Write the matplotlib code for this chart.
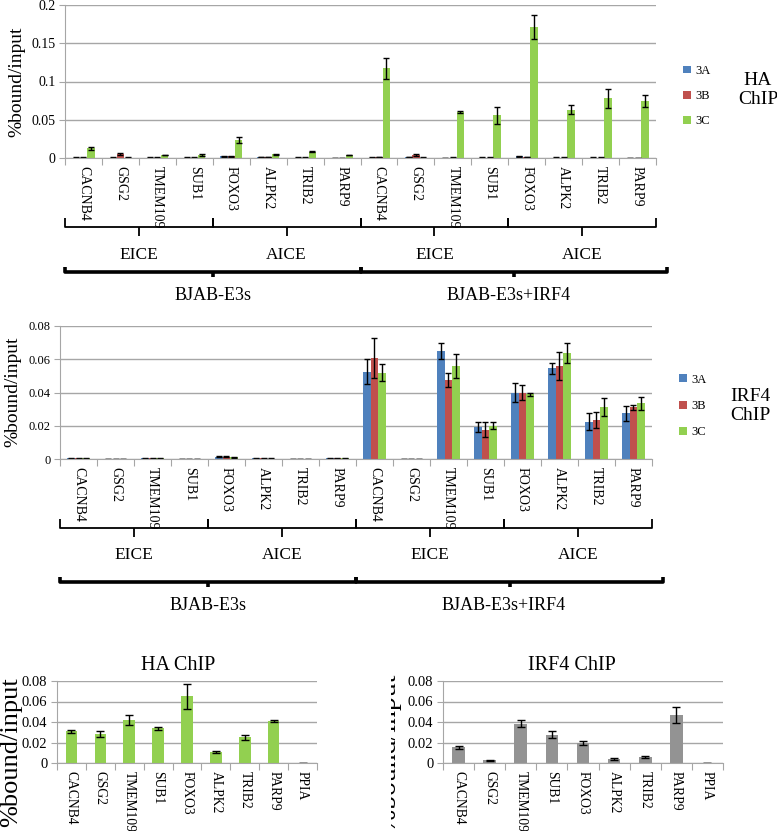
import matplotlib
matplotlib.use('Agg')
import matplotlib.pyplot as plt
from matplotlib.transforms import blended_transform_factory, Bbox, TransformedBbox
from matplotlib.ticker import FormatStrFormatter, FixedLocator
import numpy as np

plt.rcParams['font.family'] = ['Liberation Serif', 'DejaVu Serif']

genes = ['CACNB4', 'GSG2', 'TMEM109', 'SUB1', 'FOXO3', 'ALPK2', 'TRIB2', 'PARP9']
categories = genes + genes
groups = ['EICE', 'AICE', 'EICE', 'AICE']
cells = ['BJAB-E3s', 'BJAB-E3s+IRF4']
series = ['3A', '3B', '3C']

# HA ChIP (top)
ha_3a = [0.0005, 0.0005, 0.0005, 0.0005, 0.002, 0.001, 0.0005, 0.0,
         0.0005, 0.001, 0.0003, 0.0005, 0.002, 0.0005, 0.0005, 0.0]
ha_3a_err = [0.0002, 0.0002, 0.0002, 0.0002, 0.0004, 0.0002, 0.0002, 0.0,
             0.0002, 0.0003, 0.0001, 0.0002, 0.0004, 0.0002, 0.0002, 0.0]
ha_3b = [0.0005, 0.005, 0.0005, 0.0005, 0.002, 0.001, 0.0005, 0.0,
         0.001, 0.004, 0.0005, 0.0005, 0.001, 0.0005, 0.0005, 0.0]
ha_3b_err = [0.0002, 0.0015, 0.0002, 0.0002, 0.0004, 0.0002, 0.0002, 0.0,
             0.0003, 0.0008, 0.0002, 0.0002, 0.0003, 0.0002, 0.0002, 0.0]
ha_3c = [0.013, 0.0005, 0.004, 0.004, 0.024, 0.005, 0.008, 0.004,
         0.117, 0.0005, 0.060, 0.056, 0.171, 0.063, 0.078, 0.075]
ha_3c_err = [0.002, 0.0002, 0.0005, 0.0015, 0.004, 0.0005, 0.0005, 0.0005,
             0.014, 0.0002, 0.001, 0.011, 0.016, 0.006, 0.012, 0.008]

# IRF4 ChIP (middle)
irf_3a = [0.0004, 0.0002, 0.0005, 0.0, 0.0015, 0.0004, 0.0, 0.0004,
          0.0524, 0.0002, 0.065, 0.019, 0.040, 0.0545, 0.0225, 0.0275]
irf_3a_err = [0.0002, 0.0, 0.0002, 0.0, 0.0005, 0.0001, 0.0, 0.0001,
              0.0075, 0.0, 0.0048, 0.003, 0.0056, 0.0035, 0.005, 0.0045]
irf_3b = [0.0004, 0.0002, 0.0005, 0.0, 0.0015, 0.0004, 0.0, 0.0004,
          0.0605, 0.0002, 0.0475, 0.0175, 0.040, 0.056, 0.0235, 0.031]
irf_3b_err = [0.0002, 0.0, 0.0002, 0.0, 0.0005, 0.0001, 0.0, 0.0001,
              0.012, 0.0, 0.004, 0.0045, 0.0045, 0.0085, 0.005, 0.0015]
irf_3c = [0.0004, 0.0002, 0.0005, 0.0, 0.001, 0.0003, 0.0, 0.0004,
          0.052, 0.0002, 0.056, 0.020, 0.039, 0.0635, 0.0315, 0.0335]
irf_3c_err = [0.0002, 0.0, 0.0002, 0.0, 0.0004, 0.0001, 0.0, 0.0001,
              0.005, 0.0, 0.007, 0.002, 0.001, 0.006, 0.0054, 0.004]

# controls (bottom)
genes9 = genes + ['PPIA']
ha_ctrl = [0.031, 0.028, 0.042, 0.034, 0.065, 0.0105, 0.025, 0.041, 0.0]
ha_ctrl_err = [0.0015, 0.003, 0.0045, 0.0015, 0.012, 0.001, 0.0025, 0.001, 0.0]
irf_ctrl = [0.0155, 0.0025, 0.0385, 0.0275, 0.0195, 0.004, 0.006, 0.047, 0.0]
irf_ctrl_err = [0.0015, 0.0003, 0.003, 0.0035, 0.0015, 0.0008, 0.001, 0.0075, 0.0]

colors = ['#4F81BD', '#C0504D', '#92D050']
gray = '#A6A6A6'
W, H = 777, 831

fig = plt.figure(figsize=(W / 100, H / 100), dpi=100)


def px_axes(x0, y0, x1, y1):
    return fig.add_axes([x0 / W, 1 - y1 / H, (x1 - x0) / W, (y1 - y0) / H])


def style(ax, labels, ymax, ystep, ytick_size, xtick_size, pad):
    n = len(labels)
    ax.set_xlim(-0.5, n - 0.5)
    ax.set_ylim(0, ymax)
    ax.set_yticks(np.arange(0, ymax + ystep / 2, ystep))
    ax.yaxis.set_major_formatter(FormatStrFormatter('%g'))
    ax.grid(axis='y', color=gray, lw=1)
    ax.set_axisbelow(True)
    for s in ['top', 'right']:
        ax.spines[s].set_visible(False)
    for s in ['left', 'bottom']:
        ax.spines[s].set_color(gray)
    ax.xaxis.set_major_locator(FixedLocator(np.arange(-0.5, n, 1.0)))
    ax.xaxis.set_minor_locator(FixedLocator(np.arange(n)))
    ax.set_xticklabels([], minor=False)
    ax.set_xticklabels(labels, minor=True, rotation=-90, fontsize=xtick_size,
                       va='top', ha='center')
    ax.tick_params(axis='x', which='major', length=5, color=gray)
    ax.tick_params(axis='x', which='minor', length=0, pad=pad)
    ax.tick_params(axis='y', length=4, color=gray, labelsize=ytick_size, pad=3)


def grouped(ax, vals, errs, width):
    x = np.arange(len(vals[0]))
    handles = []
    for i, (v, e) in enumerate(zip(vals, errs)):
        b = ax.bar(x + (i - 1) * width, v, width, color=colors[i], yerr=e,
                   error_kw=dict(ecolor='black', elinewidth=1, capsize=2.5, capthick=1))
        handles.append(b)
    return handles


over = fig.add_axes([0, 0, 1, 1])
over.set_xlim(0, W)
over.set_ylim(H, 0)
over.axis('off')


def brace(ax, x0, x1, y, h, lw):
    tr = blended_transform_factory(ax.transData, over.transData)
    xm = (x0 + x1) / 2
    over.plot([x0, x0, x1, x1], [y - h, y, y, y - h], color='black', lw=lw,
              transform=tr, clip_on=False, solid_capstyle='butt')
    over.plot([xm, xm], [y, y + h], color='black', lw=lw, transform=tr,
              clip_on=False, solid_capstyle='butt')


def brackets(ax, y_small, y_text, y_big, y_cell, right_ext):
    tr = blended_transform_factory(ax.transData, over.transData)
    for k, g in enumerate(groups):
        x0, x1 = k * 4 - 0.5, k * 4 + 3.5
        brace(ax, x0, x1, y_small, 9, 1.3)
        over.text((x0 + x1) / 2, y_text, g, transform=tr, ha='center',
                  va='center', fontsize=12.5)
    for k, c in enumerate(cells):
        x0, x1 = k * 8 - 0.5, k * 8 + 7.5 + (right_ext if k == 1 else 0)
        brace(ax, x0, x1, y_big, 5, 2.6)
        over.text(k * 8 + 3.5, y_cell, c, transform=tr,
                  ha='center', va='center', fontsize=13)


# top: HA ChIP
ax1 = px_axes(65, 5, 656, 158)
h1 = grouped(ax1, [ha_3a, ha_3b, ha_3c], [ha_3a_err, ha_3b_err, ha_3c_err], 0.2)
style(ax1, categories, 0.2, 0.05, 10, 10, 6)
fig.text(17 / W, 1 - 82 / H, '%bound/input', rotation=90, ha='center',
         va='center', fontsize=14)
fig.legend(h1, series, loc='center left', bbox_to_anchor=(683 / W, 1 - 96 / H),
           frameon=False, fontsize=9, handlelength=0.6, handleheight=0.6,
           handletextpad=0.35, labelspacing=1.05, borderpad=0, borderaxespad=0)
fig.text(758 / W, 1 - 90 / H, 'HA\nChIP', ha='center', va='center',
         fontsize=14, linespacing=1.1)
brackets(ax1, 227, 255, 272, 295, 0.3)

# middle: IRF4 ChIP
ax2 = px_axes(60, 326, 652, 459)
h2 = grouped(ax2, [irf_3a, irf_3b, irf_3c], [irf_3a_err, irf_3b_err, irf_3c_err], 0.2)
style(ax2, categories, 0.08, 0.02, 9, 10, 6)
fig.text(13 / W, 1 - 392 / H, '%bound/input', rotation=90, ha='center',
         va='center', fontsize=14)
fig.legend(h2, series, loc='center left', bbox_to_anchor=(679 / W, 1 - 406 / H),
           frameon=False, fontsize=9, handlelength=0.6, handleheight=0.6,
           handletextpad=0.35, labelspacing=1.15, borderpad=0, borderaxespad=0)
fig.text(750 / W, 1 - 406 / H, 'IRF4\nChIP', ha='center', va='center',
         fontsize=14, linespacing=1.1)
brackets(ax2, 528, 555, 582, 605, 0.3)

# bottom left: HA ChIP controls
ax3 = px_axes(57, 681, 317, 763)
ax3.bar(np.arange(9), ha_ctrl, 0.4, color=colors[2], yerr=ha_ctrl_err,
        error_kw=dict(ecolor='black', elinewidth=1, capsize=3, capthick=1))
style(ax3, genes9, 0.08, 0.02, 10.5, 9.8, 6)
fig.text(178 / W, 1 - 665 / H, 'HA ChIP', ha='center', va='center', fontsize=14.5)
fig.text(11 / W, 1 - 752 / H, '%bound/input', rotation=90, ha='center',
         va='center', fontsize=19)

# bottom right: IRF4 ChIP controls
ax4 = px_axes(443, 681, 723, 763)
ax4.bar(np.arange(9), irf_ctrl, 0.41, color='#939393', yerr=irf_ctrl_err,
        error_kw=dict(ecolor='black', elinewidth=1, capsize=3, capthick=1))
style(ax4, genes9, 0.08, 0.02, 10.5, 9.8, 6)
fig.text(572 / W, 1 - 665 / H, 'IRF4 ChIP', ha='center', va='center', fontsize=14.5)
t = fig.text(388 / W, 1 - 752 / H, '%bound/input', rotation=90, ha='center',
             va='center', fontsize=20)
t.set_clip_box(TransformedBbox(Bbox.from_extents(391 / W, 0, 1, 1), fig.transFigure))
t.set_clip_on(True)

fig.savefig('out.png', dpi=100)
